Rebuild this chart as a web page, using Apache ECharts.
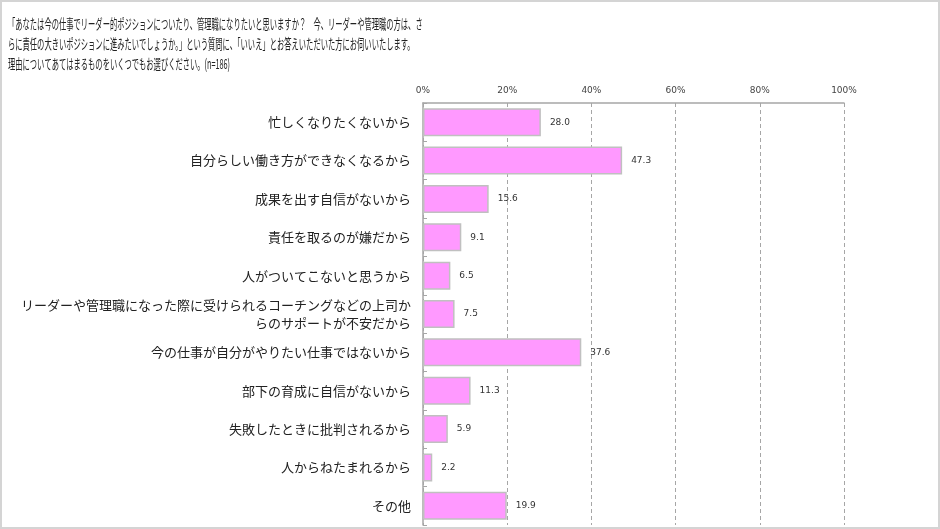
<!DOCTYPE html>
<html>
<head>
<meta charset="utf-8">
<script src="https://cdn.jsdelivr.net/npm/echarts@6/dist/echarts.min.js"></script>
<style>
html, body { margin: 0; padding: 0; background: #fff; }
#frame { width: 940px; height: 529px; box-sizing: border-box; border: 2px solid #d4d4d4; }
#main { width: 936px; height: 525px; }
</style>
</head>
<body>
<div id="frame"><div id="main"></div></div>
<script>
// 質問文
const titleLines = [
    '「あなたは今の仕事でリーダー的ポジションについたり、管理職になりたいと思いますか？　今、リーダーや管理職の方は、さ',
    'らに責任の大きいポジションに進みたいでしょうか。」という質問に、「いいえ」とお答えいただいた方にお伺いいたします。',
    '理由についてあてはまるものをいくつでもお選びください。(n=186)'
];

const categories = [
    '忙しくなりたくないから',
    '自分らしい働き方ができなくなるから',
    '成果を出す自信がないから',
    '責任を取るのが嫌だから',
    '人がついてこないと思うから',
    'リーダーや管理職になった際に受けられるコーチングなどの上司か\nらのサポートが不安だから',
    '今の仕事が自分がやりたい仕事ではないから',
    '部下の育成に自信がないから',
    '失敗したときに批判されるから',
    '人からねたまれるから',
    'その他'
];

const values = [28.0, 47.3, 15.6, 9.1, 6.5, 7.5, 37.6, 11.3, 5.9, 2.2, 19.9];

const tickMax = 100;
const tickStep = 20;

const jpFont = '"Noto Sans CJK JP", "Noto Sans", sans-serif';
const labelSize = 13;

// 2行ラベル：短い行の前に空きトークンを入れて中央寄せにする
const wrapped = categories.find(c => c.includes('\n')).split('\n');
const longLen = Math.max(...wrapped.map(s => s.length));
const shortLen = Math.min(...wrapped.map(s => s.length));
const spacerW = (longLen - shortLen) / 4 * labelSize;

const centerLines = (val) => {
    const lines = val.split('\n');
    if (lines.length < 2) return val;
    return lines.map(s => (s.length < longLen ? '{s| }' : '') + '{t|' + s + '}').join('\n');
};

const myChart = echarts.init(document.getElementById('main'), null, { renderer: 'canvas' });

const option = {
    animation: false,
    backgroundColor: '#fff',
    textStyle: { fontFamily: jpFont },
    graphic: titleLines.map((line, i) => ({
        type: 'text',
        x: 6,
        y: 15 + i * 20,
        scaleX: 0.52,
        style: {
            text: line,
            font: '14px ' + jpFont,
            fill: '#222'
        }
    })),
    grid: {
        left: 421,
        right: 94,
        top: 101,
        bottom: 2
    },
    xAxis: {
        type: 'value',
        position: 'top',
        min: 0,
        max: tickMax,
        interval: tickStep,
        axisLine: { show: true, lineStyle: { color: '#a6a6a6', width: 1.5 } },
        axisTick: { show: false },
        axisLabel: {
            formatter: '{value}%',
            fontSize: 9,
            color: '#444',
            margin: 8,
            fontFamily: 'DejaVu Sans'
        },
        splitLine: {
            show: true,
            lineStyle: { color: '#a6a6a6', type: [4, 3], width: 1 }
        }
    },
    yAxis: {
        type: 'category',
        inverse: true,
        data: categories,
        axisLine: { show: true, lineStyle: { color: '#a6a6a6', width: 1.5 } },
        axisTick: { show: true, inside: true, length: 4, lineStyle: { color: '#a6a6a6' } },
        axisLabel: {
            fontSize: labelSize,
            color: '#222',
            margin: 12,
            lineHeight: 18,
            formatter: centerLines,
            rich: {
                s: { width: spacerW, fontSize: labelSize, lineHeight: 18 },
                t: { fontSize: labelSize, color: '#222', lineHeight: 18 }
            }
        }
    },
    series: [{
        type: 'bar',
        data: values,
        barCategoryGap: '27%',
        itemStyle: {
            color: '#ff99ff',
            borderColor: '#c0c0c0',
            borderWidth: 1.5
        },
        label: {
            show: true,
            position: 'right',
            distance: 9,
            fontSize: 9,
            color: '#333',
            fontFamily: 'DejaVu Sans',
            formatter: (p) => p.value.toFixed(1)
        }
    }]
};

myChart.setOption(option);
</script>
</body>
</html>
